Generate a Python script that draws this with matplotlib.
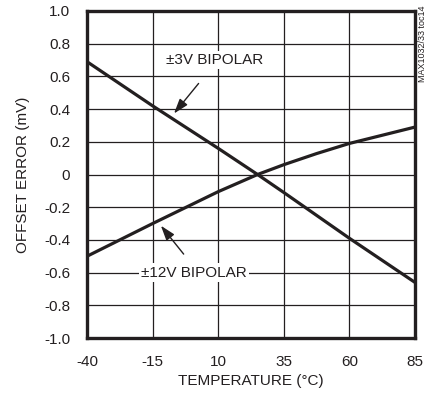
import numpy as np
import matplotlib.pyplot as plt

plt.rcParams['font.family'] = ['Liberation Sans Narrow', 'Liberation Sans', 'DejaVu Sans']

# temperature points (deg C) and offset error (mV)
temp = [-40, -15, 10, 25, 35, 47.5, 60, 85]
bip3 = [0.69, 0.42, 0.16, 0.0, -0.11, -0.25, -0.39, -0.66]
bip12 = [-0.50, -0.30, -0.105, 0.0, 0.06, 0.128, 0.19, 0.29]

xticks = [-40, -15, 10, 35, 60, 85]
yticks = [1.0, 0.8, 0.6, 0.4, 0.2, 0.0, -0.2, -0.4, -0.6, -0.8, -1.0]
ylabels = ['1.0', '0.8', '0.6', '0.4', '0.2', '0', '-0.2', '-0.4', '-0.6', '-0.8', '-1.0']

ink = '#231f20'
fs = 11

fig = plt.figure(figsize=(4.35, 3.97), dpi=100)
ax = fig.add_axes([0.2, 0.1486, 0.754, 0.8237])

ax.plot(temp, bip3, color=ink, lw=2.3, zorder=3)
ax.plot(temp, bip12, color=ink, lw=2.3, zorder=3)

ax.set_xlim(-40, 85)
ax.set_ylim(-1.0, 1.0)
ax.set_xticks(xticks)
ax.set_xticklabels([str(t) for t in xticks])
ax.set_yticks(yticks)
ax.set_yticklabels(ylabels)
ax.tick_params(length=0, labelsize=fs, colors=ink)
ax.tick_params(axis='y', pad=12)
ax.tick_params(axis='x', pad=12)
ax.grid(True, color=ink, lw=0.9)
ax.set_axisbelow(True)
for s in ax.spines.values():
    s.set_linewidth(2.4)
    s.set_color(ink)

ax.set_xlabel('TEMPERATURE (°C)', fontsize=fs, color=ink, labelpad=4)
ax.set_ylabel('OFFSET ERROR (mV)', fontsize=fs, color=ink, labelpad=10)

box = dict(facecolor='white', edgecolor='none', pad=1.5)
arrow = dict(arrowstyle='-|>,head_length=0.9,head_width=0.3', color=ink, lw=1.0)
ax.text(8.8, 0.70, '±3V BIPOLAR', fontsize=fs, color=ink, ha='center', va='center', bbox=box, zorder=4)
ax.annotate('', xy=(-7.5, 0.36), xytext=(3.2, 0.57), arrowprops=arrow)

ax.text(0.7, -0.6, '±12V BIPOLAR', fontsize=fs, color=ink, ha='center', va='center', bbox=box, zorder=4)
ax.annotate('', xy=(-12.5, -0.30), xytext=(-2.5, -0.5), arrowprops=arrow)

fig.text(0.972, 0.89, 'MAX1032/33 toc14', rotation=90, fontsize=6.5, color=ink, ha='center', va='center')

fig.savefig('out.png', dpi=100)
